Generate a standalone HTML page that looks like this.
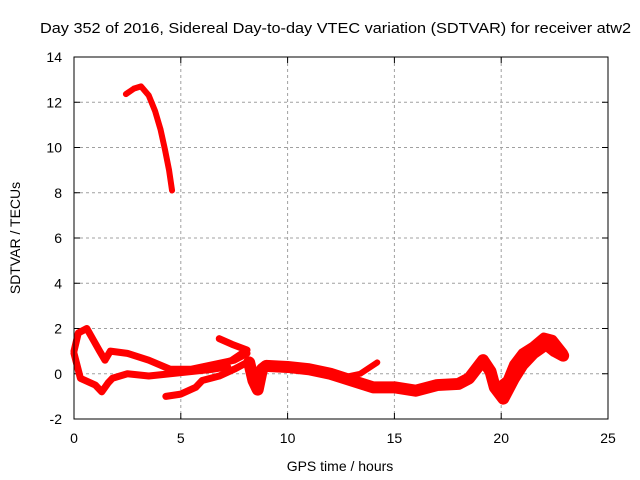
<!DOCTYPE html>
<html><head><meta charset="utf-8"><style>
body{margin:0;background:#fff}
svg{display:block;font-family:"Liberation Sans",sans-serif;font-size:14px}
</style></head><body>
<svg id="chart" width="640" height="480" viewBox="0 0 640 480">
<text x="40" y="33" textLength="591" lengthAdjust="spacingAndGlyphs" style="font-size:15px">Day 352 of 2016, Sidereal Day-to-day VTEC variation (SDTVAR) for receiver atw2</text>
<g id="grid"></g>
<g id="xticks"></g>
<g id="yticks"></g>
<g id="series"></g>
<rect x="74" y="57" width="534" height="362" fill="none" stroke="#000" stroke-width="1"/>
<text x="340" y="471" text-anchor="middle">GPS time / hours</text>
<text transform="translate(20,238) rotate(-90)" text-anchor="middle">SDTVAR / TECUs</text>
</svg>
<script>
const xTicks=[0,5,10,15,20,25];
const yTicks=[-2,0,2,4,6,8,10,12,14];
const segArc=[[2.43,12.36],[2.8,12.6],[3.14,12.7],[3.5,12.3],[3.8,11.6],[4.05,10.8],[4.26,9.9],[4.45,9.0],[4.59,8.1]];
const segUpper=[[0,1.0],[0.2,1.8],[0.6,2.0],[0.9,1.5],[1.2,1.0],[1.45,0.6],[1.7,1.0],[2.5,0.9],[3.5,0.6],[4.5,0.2],[5.5,0.2],[6.5,0.4],[7.5,0.6],[8.1,0.9]];
const segLoop=[[0,0.9],[0.3,-0.2],[1.0,-0.5],[1.3,-0.8],[1.6,-0.4],[1.8,-0.2],[2.5,0.0],[3.5,-0.1],[4.5,0.0],[5.5,0.1],[6.5,0.2],[7.2,0.3]];
const segLow=[[4.3,-1.0],[5.0,-0.9],[5.7,-0.6],[6.0,-0.3],[6.8,-0.1],[7.5,0.2],[8.1,0.5]];
const segSpur=[[6.8,1.55],[7.4,1.3],[8.1,1.05],[7.4,0.6],[6.9,0.4]];
const segMain=[[8.2,0.5],[8.4,-0.3],[8.6,-0.7],[8.8,0.2],[9,0.35],[10,0.3],[11,0.2],[12,0.0],[13,-0.3],[14,-0.6],[15,-0.6],[16,-0.75],[17,-0.5],[18,-0.45],[18.5,-0.2],[19.15,0.6],[19.5,0.1],[19.7,-0.6],[20.1,-1.1],[20.6,-0.2],[21,0.4],[21.5,0.9],[22.1,1.3],[22.5,1.0],[22.9,0.8]];
const segMain2=[[19.9,-0.6],[20.3,-0.3],[20.6,0.4],[21,0.9],[21.5,1.2],[22,1.6],[22.4,1.5],[22.9,0.9]];
const segBranch=[[12.4,-0.2],[13.4,0.0],[14.2,0.5]];
const segments=[segArc,segUpper,segLoop,segLow,segSpur,segMain,segMain2,segBranch];
const segWidths=[6,7,7,7,7,12,10,6];
const NS="http://www.w3.org/2000/svg";
const X=h=>74+h*534/25, Y=v=>373.75-v*22.625;
const grid=document.getElementById('grid'),xt=document.getElementById('xticks'),yt=document.getElementById('yticks'),sr=document.getElementById('series');
function mk(tag,attrs,parent){const e=document.createElementNS(NS,tag);for(const k in attrs)e.setAttribute(k,attrs[k]);parent.appendChild(e);return e;}
xTicks.forEach(t=>{
 const x=X(t);
 if(t>0&&t<25){const g=mk('line',{x1:x,x2:x,y1:57,y2:419,stroke:'#a0a0a0','stroke-dasharray':'3,3'},grid);
 
 }
 mk('line',{x1:x,x2:x,y1:419,y2:413,stroke:'#000'},xt);mk('line',{x1:x,x2:x,y1:57,y2:63,stroke:'#000'},xt);
 const tx=mk('text',{x:x,y:443,'text-anchor':'middle'},xt);tx.textContent=t;
 
 
});
yTicks.forEach(t=>{
 const y=Y(t);
 if(t>-2&&t<14){const g=mk('line',{x1:74,x2:608,y1:y,y2:y,stroke:'#a0a0a0','stroke-dasharray':'3,3'},grid);
 
 }
 mk('line',{x1:74,x2:80,y1:y,y2:y,stroke:'#000'},yt);mk('line',{x1:608,x2:602,y1:y,y2:y,stroke:'#000'},yt);
 const tx=mk('text',{x:62,y:y+5,'text-anchor':'end'},yt);tx.textContent=t;
 
 
});
segments.forEach((s,i)=>{
 const p=mk('polyline',{points:s.map(d=>X(d[0])+','+Y(d[1])).join(' '),fill:'none',stroke:'#ff0000','stroke-width':segWidths[i],'stroke-linejoin':'round','stroke-linecap':'round'},sr);
 
 
});
</script>
</body></html>
